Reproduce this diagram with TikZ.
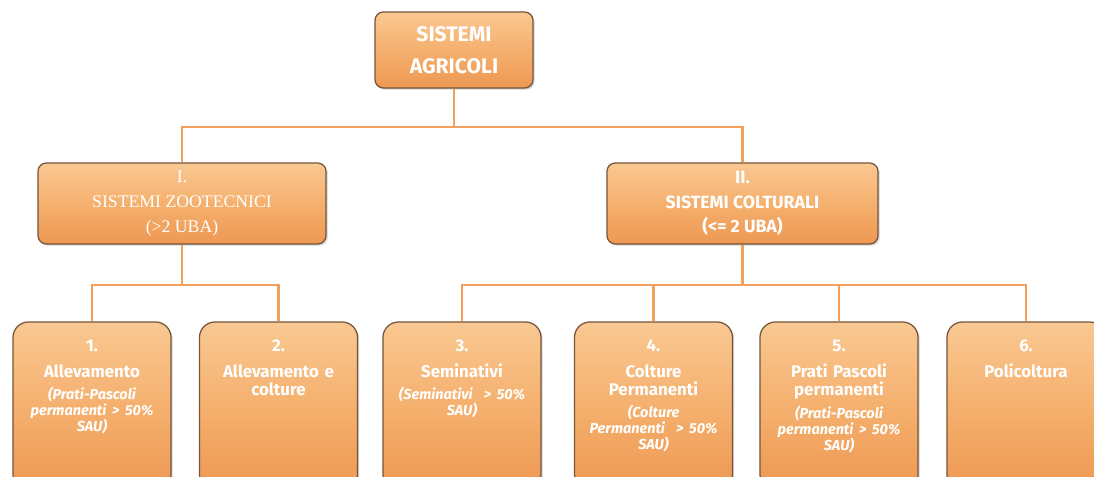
\documentclass[tikz,border=0pt]{standalone}
\usepackage{fontspec}
\setmainfont{Fira Sans}
\newfontfamily\timesfont{Liberation Serif}
\usetikzlibrary{positioning,shadows}

\definecolor{boxtop}{RGB}{249,200,146}
\definecolor{boxmid}{RGB}{245,176,110}
\definecolor{boxbot}{RGB}{237,152,82}
\definecolor{boxline}{RGB}{118,86,60}
\definecolor{linkline}{RGB}{242,160,92}

\tikzset{
  box/.style={draw=boxline, line width=0.9pt, top color=boxtop, bottom color=boxbot, middle color=boxmid,
    drop shadow={shadow xshift=1.2pt, shadow yshift=-1.2pt, opacity=0.35}},
  bigbox/.style={box, rounded corners=6pt, minimum height=2.025cm},
  leafbox/.style={box, rounded corners=11pt, minimum width=3.95cm, minimum height=4.2cm},
  lbl/.style={text=white, align=center, inner sep=0pt},
  leaflbl/.style={lbl, text width=3.8cm, font=\bfseries\fontsize{12}{12.8}\selectfont},
  link/.style={draw=linkline, line width=1.8pt},
}
\newcommand{\subnote}[1]{{\itshape\fontsize{10.3}{11.4}\selectfont #1\par}}

\begin{document}
\begin{tikzpicture}[x=0.025cm, y=-0.025cm]
    \useasboundingbox (0,0) rectangle (1094,476);
    \clip (0,0) rectangle (1094,476);

    % livello 0
    \node[bigbox, minimum width=3.95cm, minimum height=1.9cm] (top) at (454,50) {};
    \node[lbl, font=\bfseries\fontsize{15}{23}\selectfont] (ttop) at (top) {SISTEMI\\AGRICOLI};

    % livello 1
    \node[bigbox, minimum width=7.2cm] (zoo) at (182,203.5) {};
    \node[lbl, font=\timesfont\fontsize{12.6}{17.7}\selectfont] (tzoo) at (zoo) {I.\\SISTEMI ZOOTECNICI\\(>2 UBA)};
    \node[bigbox, minimum width=6.775cm] (col) at (742.5,203.5) {};
    \node[lbl, font=\bfseries\fontsize{12.6}{17.5}\selectfont] (tcol) at (col) {II.\\SISTEMI COLTURALI\\(<= 2 UBA)};

    % livello 2
    \node[leafbox] (b1) at (92,406) {};
    \node[leafbox] (b2) at (278.5,406) {};
    \node[leafbox] (b3) at (462,406) {};
    \node[leafbox] (b4) at (653.5,406) {};
    \node[leafbox] (b5) at (839,406) {};
    \node[leafbox] (b6) at (1026,406) {};

    \node[leaflbl, below=4.5mm of b1.north] (t1) {1.\\[6pt]Allevamento\par\vspace{4pt}
      \subnote{(Prati-Pascoli\\permanenti > 50\%\\SAU)}};
    \node[leaflbl, below=4.5mm of b2.north] (t2) {2.\\[6pt]Allevamento e\\colture};
    \node[leaflbl, below=4.5mm of b3.north] (t3) {3.\\[6pt]Seminativi\par\vspace{4pt}
      \subnote{(Seminativi~ > 50\%\\SAU)}};
    \node[leaflbl, below=4.5mm of b4.north] (t4) {4.\\[6pt]Colture\\Permanenti\par\vspace{4pt}
      \subnote{(Colture\\Permanenti~ > 50\%\\SAU)}};
    \node[leaflbl, below=4.5mm of b5.north] (t5) {5.\\[6pt]Prati Pascoli\\permanenti\par\vspace{4pt}
      \subnote{(Prati-Pascoli\\permanenti > 50\%\\SAU)}};
    \node[leaflbl, below=4.5mm of b6.north] (t6) {6.\\[6pt]Policoltura};

    % collegamenti
    \coordinate (j0) at (454,127);
    \coordinate (j1) at (182,285);
    \coordinate (j2) at (742.5,285);
    \draw[link] (top.south) -- (j0);
    \draw[link] (zoo.north) |- (j0) -| (col.north);
    \draw[link] (zoo.south) -- (j1);
    \draw[link] (b1.north) |- (j1) -| (b2.north);
    \draw[link] (col.south) -- (j2);
    \draw[link] (b3.north) |- (j2) -| (b6.north);
    \draw[link] (b4.north) -- (b4.north |- j2);
    \draw[link] (b5.north) -- (b5.north |- j2);
\end{tikzpicture}
\end{document}
